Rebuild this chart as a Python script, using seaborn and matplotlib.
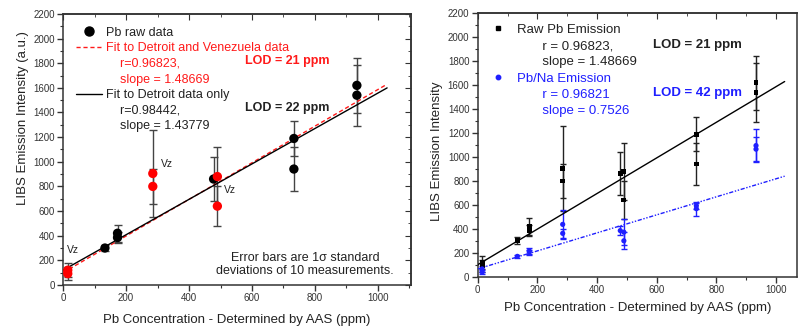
import matplotlib
matplotlib.use("Agg")
import matplotlib.pyplot as plt
from matplotlib.lines import Line2D
from matplotlib.ticker import MultipleLocator
import seaborn as sns
import pandas as pd
import numpy as np

# Pb concentration by AAS (ppm) and LIBS signals
conc = [15, 15, 133, 173, 173, 285, 285, 478, 490, 490, 733, 733, 933, 933]
site = ["Vz", "Vz", "Detroit", "Detroit", "Detroit", "Vz", "Vz", "Detroit",
        "Vz", "Vz", "Detroit", "Detroit", "Detroit", "Detroit"]
raw = [120, 92, 300, 420, 385, 905, 800, 860, 880, 640, 1189, 941, 1620, 1540]
raw_err = [55, 50, 28, 70, 45, 355, 140, 180, 240, 160, 142, 175, 226, 248]
pbna = [65, 40, 170, 215, 205, 437, 362, 385, 372, 300, 593, 568, 1095, 1065]
pbna_err = [25, 15, 10, 25, 20, 118, 40, 40, 108, 70, 25, 60, 135, 100]

fit_x = [0, 1029]
fit_all = (1.48669, 100)      # Detroit + Venezuela / raw Pb
fit_detroit = (1.43779, 120)  # Detroit only
fit_pbna = (0.7526, 65)

vz_labels = [(13, 285), (311, 985), (511, 771)]

df = pd.DataFrame({"conc": conc, "site": site, "raw": raw, "raw_err": raw_err,
                   "pbna": pbna, "pbna_err": pbna_err})

def fit_frame(fit):
    x = np.array(fit_x, dtype=float)
    return pd.DataFrame({"x": x, "y": fit[0] * x + fit[1]})

sns.set_style("ticks")
plt.rcParams["font.family"] = ["Liberation Sans", "DejaVu Sans"]
plt.rcParams["axes.edgecolor"] = "#333333"
plt.rcParams["xtick.color"] = "#333333"
plt.rcParams["ytick.color"] = "#333333"

RED = "#ff1a1a"
BLUE = "#1f1fff"
TXT = "#222222"

fig = plt.figure(figsize=(7.98, 3.31), dpi=100)
ax1 = fig.add_axes([0.079, 0.139, 0.4361, 0.819])
ax2 = fig.add_axes([0.5986, 0.164, 0.400, 0.796])


def style_axes(ax, xmax, mirror_right=True):
    ax.set_xlim(0, xmax)
    ax.set_ylim(0, 2200)
    ax.xaxis.set_major_locator(MultipleLocator(200))
    ax.xaxis.set_minor_locator(MultipleLocator(100))
    ax.yaxis.set_major_locator(MultipleLocator(200))
    ax.yaxis.set_minor_locator(MultipleLocator(100))
    ax.tick_params(which="major", direction="out", length=4, width=1,
                   labelsize=7, labelcolor="#333333", pad=2)
    ax.tick_params(which="minor", direction="out", length=2.5, width=0.8)
    for s in ax.spines.values():
        s.set_linewidth(1.1)
    top = ax.secondary_xaxis("top")
    top.xaxis.set_major_locator(MultipleLocator(200))
    top.xaxis.set_minor_locator(MultipleLocator(100))
    top.tick_params(which="major", direction="in", length=4, labeltop=False)
    top.tick_params(which="minor", direction="in", length=2.5)
    top.spines["top"].set_linewidth(1.1)
    if mirror_right:
        right = ax.secondary_yaxis("right")
        right.yaxis.set_major_locator(MultipleLocator(200))
        right.yaxis.set_minor_locator(MultipleLocator(100))
        right.tick_params(which="major", direction="in", length=4, labelright=False)
        right.tick_params(which="minor", direction="in", length=2.5)
        right.spines["right"].set_linewidth(1.1)


# ---------------- left panel ----------------
ax = ax1
style_axes(ax, 1105)
ax.errorbar(df["conc"], df["raw"], yerr=df["raw_err"], fmt="none",
            ecolor="#444444", elinewidth=1, capsize=3, capthick=1, zorder=2)
sns.lineplot(data=fit_frame(fit_all), x="x", y="y", ax=ax, color=RED,
             lw=1, dashes=(3, 2), zorder=3)
sns.lineplot(data=fit_frame(fit_detroit), x="x", y="y", ax=ax, color="black",
             lw=1, zorder=3)
sns.scatterplot(data=df, x="conc", y="raw", hue="site",
                palette={"Detroit": "black", "Vz": "red"}, s=45,
                edgecolor="none", legend=False, ax=ax, zorder=4)
for x, y in vz_labels:
    ax.text(x, y, "Vz", fontsize=7.5, color=TXT, va="center")

ax.set_xlabel("Pb Concentration - Determined by AAS (ppm)", fontsize=9.5,
              color=TXT, labelpad=8)
ax.set_ylabel("LIBS Emission Intensity (a.u.)", fontsize=9.5, color=TXT)
ax.yaxis.set_label_coords(-0.099, 0.615)

blank = Line2D([], [], ls="none")
h = [Line2D([], [], marker="o", color="black", ls="none", ms=6.5),
     Line2D([], [], color=RED, lw=1, dashes=(3, 2)), blank, blank,
     Line2D([], [], color="black", lw=1), blank, blank]
lab = ["Pb raw data", "Fit to Detroit and Venezuela data",
       "    r=0.96823,", "    slope = 1.48669", "Fit to Detroit data only",
       "    r=0.98442,", "    slope = 1.43779"]
cols = [TXT, RED, RED, RED, TXT, TXT, TXT]
leg = ax.legend(h, lab, loc="upper left", bbox_to_anchor=(0.037, 0.953),
                frameon=False, fontsize=9, borderpad=0, borderaxespad=0,
                handlelength=2.1, handletextpad=0.3, labelspacing=0.29)
for t, c in zip(leg.get_texts(), cols):
    t.set_color(c)

ax.text(0.523, 0.827, "LOD = 21 ppm", transform=ax.transAxes, fontsize=9,
        fontweight="bold", color=RED, va="center")
ax.text(0.523, 0.653, "LOD = 22 ppm", transform=ax.transAxes, fontsize=9,
        fontweight="bold", color=TXT, va="center")
ax.text(0.695, 0.074, "Error bars are 1\u03c3 standard\ndeviations of 10 measurements.",
        transform=ax.transAxes, fontsize=9, color=TXT, ha="center", va="center",
        linespacing=1.1)

# ---------------- right panel ----------------
ax = ax2
style_axes(ax, 1070, mirror_right=False)
ax.errorbar(df["conc"], df["raw"], yerr=df["raw_err"], fmt="none",
            ecolor="#222222", elinewidth=1, capsize=2.5, capthick=1, zorder=2)
ax.errorbar(df["conc"], df["pbna"], yerr=df["pbna_err"], fmt="none",
            ecolor=BLUE, elinewidth=1, capsize=2.5, capthick=1, zorder=2)
sns.lineplot(data=fit_frame(fit_all), x="x", y="y", ax=ax, color="black",
             lw=1, zorder=3)
sns.lineplot(data=fit_frame(fit_pbna), x="x", y="y", ax=ax, color=BLUE,
             lw=1, dashes=(3, 1.2, 1, 1.2, 1, 1.2), zorder=3)
sns.scatterplot(data=df, x="conc", y="raw", marker="s", s=12, color="black",
                edgecolor="none", ax=ax, zorder=4)
sns.scatterplot(data=df, x="conc", y="pbna", marker="o", s=14, color=BLUE,
                edgecolor="none", ax=ax, zorder=4)

ax.set_xlabel("Pb Concentration - Determined by AAS (ppm)", fontsize=9.5,
              color=TXT, labelpad=5)
ax.set_ylabel("LIBS Emission Intensity", fontsize=9.5, color=TXT)
ax.yaxis.set_label_coords(-0.108, 0.475)

h = [Line2D([], [], marker="s", color="black", ls="none", ms=3), blank, blank,
     Line2D([], [], marker="o", color=BLUE, ls="none", ms=3.2), blank, blank]
lab = ["Raw Pb Emission", "       r = 0.96823,", "       slope = 1.48669",
       "Pb/Na Emission", "       r = 0.96821", "       slope = 0.7526"]
cols = [TXT, TXT, TXT, BLUE, BLUE, BLUE]
leg = ax.legend(h, lab, loc="upper left", bbox_to_anchor=(0.023, 0.961),
                frameon=False, fontsize=9.5, borderpad=0, borderaxespad=0,
                handlelength=2.0, handletextpad=0.45, labelspacing=0.31)
for t, c in zip(leg.get_texts(), cols):
    t.set_color(c)

ax.text(0.549, 0.880, "LOD = 21 ppm", transform=ax.transAxes, fontsize=9.5,
        fontweight="bold", color=TXT, va="center")
ax.text(0.549, 0.697, "LOD = 42 ppm", transform=ax.transAxes, fontsize=9.5,
        fontweight="bold", color=BLUE, va="center")

fig.savefig("out.png", dpi=100)
